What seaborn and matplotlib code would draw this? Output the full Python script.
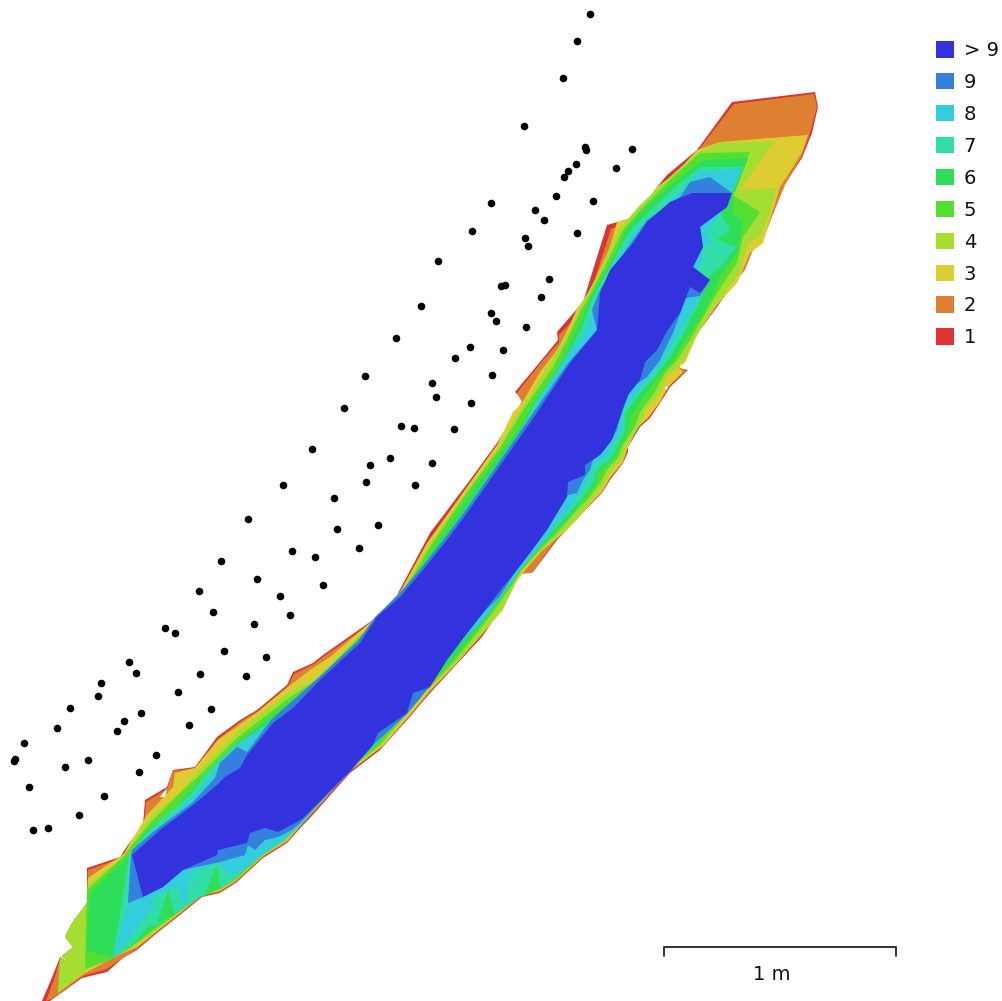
import matplotlib
matplotlib.use("Agg")
import matplotlib.pyplot as plt
from matplotlib.patches import Patch
import numpy as np
import pandas as pd
import seaborn as sns

level_labels = ["> 9", "9", "8", "7", "6", "5", "4", "3", "2", "1"]
level_colors = ["#3333dd", "#3380dd", "#33cddd", "#32dea8", "#2fde58", "#55de32",
                "#a5de32", "#decd32", "#de8032", "#de3333"]

camera_x = [590, 577, 563, 524, 585, 586, 632, 616, 576, 568, 564, 556, 593, 491, 535, 544,
            472, 577, 525, 528, 438, 549, 505, 501, 541, 421, 491, 496, 526, 396, 470, 455,
            503, 365, 492, 432, 436, 471, 344, 401, 414, 454, 312, 390, 370, 432, 366, 415,
            283, 334, 248, 378, 337, 292, 359, 315, 221, 257, 323, 199, 280, 213, 290, 254,
            165, 175, 224, 266, 129, 136, 200, 246, 101, 98, 178, 141, 211, 124, 117, 189,
            70, 57, 24, 15, 14, 156, 88, 65, 139, 29, 104, 79, 48, 33]
camera_y = [14, 41, 78, 126, 147, 150, 149, 168, 164, 171, 177, 196, 201, 203, 210, 220,
            231, 233, 238, 246, 261, 279, 285, 286, 297, 306, 313, 321, 327, 338, 347, 358,
            350, 376, 375, 383, 397, 403, 408, 426, 428, 429, 449, 458, 465, 463, 482, 485,
            485, 498, 519, 525, 529, 551, 548, 557, 561, 579, 585, 591, 596, 612, 615, 624,
            628, 633, 651, 657, 662, 673, 674, 676, 683, 696, 692, 713, 709, 721, 731, 725,
            708, 728, 743, 759, 761, 755, 760, 767, 772, 787, 796, 815, 828, 830]

outline_1 = [(42, 1001), (53, 975), (60, 957), (68, 962), (62, 956), (73, 947), (65, 937), (72, 923), (87, 903),
             (87, 868), (120, 857), (128, 845), (143, 825), (145, 800), (167, 787), (173, 770), (195, 767),
             (217, 737), (240, 720), (257, 710), (287, 685), (293, 672), (313, 663), (323, 655), (377, 617),
             (397, 595), (430, 533), (470, 480), (497, 443), (523, 400), (515, 392), (540, 362), (558, 340),
             (557, 332), (583, 302), (607, 225), (635, 217), (657, 187), (667, 175), (697, 150), (732, 102),
             (815, 92), (818, 107), (812, 133), (802, 158), (783, 187), (763, 240), (757, 238), (743, 270),
             (717, 307), (700, 330), (683, 360), (678, 368), (688, 370), (670, 387), (662, 400), (650, 418),
             (640, 427), (628, 447), (628, 452), (623, 463), (610, 480), (602, 493), (595, 500), (557, 540),
             (533, 572), (520, 572), (507, 600), (482, 637), (430, 693), (407, 720), (380, 750), (350, 773),
             (310, 818), (303, 825), (287, 843), (263, 858), (237, 882), (220, 893), (202, 897), (180, 915),
             (157, 933), (137, 950), (123, 958), (107, 972), (82, 978), (50, 1001)]
outline_2 = [(46, 1001), (55, 977), (60, 958), (68, 962), (62, 956), (73, 947), (65, 937), (72, 923), (87, 903),
             (88, 870), (121, 858), (129, 845), (144, 825), (146, 802), (167, 789), (173, 771), (195, 768),
             (218, 739), (241, 721), (258, 711), (288, 686), (294, 674), (314, 664), (323, 657), (377, 619),
             (398, 597), (433, 537), (472, 484), (500, 447), (523, 404), (517, 393), (540, 364), (559, 342),
             (559, 335), (586, 307), (611, 229), (636, 219), (657, 189), (697, 152), (734, 104),
             (814, 94), (817, 107), (810, 133), (802, 156), (785, 185), (762, 241), (757, 240), (745, 270),
             (717, 305), (700, 329), (684, 361), (679, 367), (686, 371), (669, 386), (661, 399), (649, 417),
             (639, 426), (627, 446), (626, 452), (622, 462), (609, 479), (601, 492), (594, 499), (557, 538),
             (532, 573), (520, 574), (507, 599), (482, 635), (430, 691), (407, 718), (380, 748), (350, 771),
             (310, 816), (303, 823), (287, 842), (263, 857), (237, 881), (220, 892), (202, 896), (180, 914),
             (157, 932), (137, 949), (123, 958), (107, 969), (83, 976), (52, 999)]
outline_3 = [(58, 993), (60, 975), (60, 958), (68, 962), (62, 956), (73, 947), (65, 937), (72, 923), (87, 903),
             (88, 878), (125, 853), (130, 843), (147, 815), (173, 787), (175, 773), (195, 768),
             (218, 740), (242, 723), (258, 712), (288, 687), (310, 670), (330, 657), (373, 620), (383, 610),
             (400, 592), (427, 543), (467, 487), (497, 445), (513, 412), (522, 403), (540, 372), (557, 350),
             (565, 335), (578, 307), (590, 290), (610, 247), (617, 222), (635, 217), (657, 187), (677, 172), (697, 150),
             (720, 142), (808, 135), (802, 152), (793, 167), (780, 187), (763, 243), (750, 253), (737, 283),
             (717, 305), (698, 333), (685, 363), (678, 367), (683, 372), (668, 387), (660, 402), (648, 418),
             (638, 427), (628, 447), (623, 462), (610, 478), (602, 492), (595, 499), (567, 530),
             (543, 550), (527, 568), (510, 590), (503, 610), (483, 633), (457, 663), (430, 691), (410, 715),
             (383, 746), (350, 771), (310, 815), (287, 841), (263, 856), (237, 880), (220, 891), (202, 895), (180, 913),
             (157, 931), (137, 947), (112, 958), (100, 965), (82, 975)]
outline_4 = [(58, 993), (60, 958), (68, 962), (62, 956), (73, 947), (65, 937), (72, 923), (87, 903), (88, 885),
             (125, 855), (131, 845), (150, 817), (177, 795), (203, 767), (240, 730), (287, 693), (313, 680),
             (375, 622), (400, 595), (429, 545), (469, 488), (499, 447), (515, 418), (530, 395), (560, 347),
             (572, 325), (585, 298), (600, 270), (620, 228), (640, 205), (672, 175),
             (700, 151), (720, 143), (775, 141), (757, 165), (740, 190), (777, 188), (770, 213), (760, 237),
             (748, 243), (740, 273), (717, 303), (695, 337), (682, 363), (668, 375), (660, 393), (647, 408),
             (640, 425), (627, 445), (622, 458), (612, 470), (603, 485), (593, 499), (569, 527), (541, 551),
             (521, 572), (505, 605), (482, 634), (455, 664), (428, 690), (408, 714),
             (381, 745), (350, 770), (310, 814), (285, 841), (262, 856), (237, 879), (220, 890), (202, 895), (178, 913),
             (155, 932), (133, 947), (113, 956), (85, 971)]
outline_5 = [(85, 969), (87, 890), (125, 855), (132, 845), (150, 823), (180, 793), (205, 770), (237, 738),
             (290, 697), (317, 680), (373, 623), (400, 597), (430, 547), (470, 488), (500, 448), (517, 420),
             (523, 410), (553, 367), (567, 340), (580, 312), (587, 300), (603, 270), (623, 230),
             (643, 207), (673, 177), (700, 153), (750, 152), (740, 173), (730, 193), (760, 212), (743, 237),
             (737, 263), (717, 293), (690, 340), (677, 360), (665, 373), (653, 395), (640, 412), (635, 427),
             (623, 445), (618, 458), (607, 470), (600, 483), (588, 499), (580, 507), (557, 533), (537, 553),
             (522, 570), (500, 603), (477, 633), (453, 663), (427, 690), (407, 713), (380, 745),
             (350, 769), (305, 820), (284, 841), (261, 856), (237, 879), (220, 889), (203, 895), (168, 920),
             (150, 933), (130, 948), (110, 960)]
outline_6 = [(86, 950), (90, 893), (129, 856), (145, 832), (173, 810), (200, 780), (213, 767), (240, 740),
             (263, 723), (292, 700), (320, 680), (377, 623), (400, 600), (433, 550), (473, 490), (503, 450),
             (520, 427), (533, 403), (557, 370), (572, 340), (593, 293), (610, 263), (628, 227), (650, 203),
             (677, 180), (703, 160), (748, 158), (737, 187), (733, 195), (733, 213), (743, 223), (740, 237),
             (737, 253), (720, 277), (707, 307), (687, 338), (672, 362), (658, 377), (642, 400), (630, 418),
             (628, 433), (620, 447), (615, 458), (598, 473), (597, 483), (583, 500), (567, 520), (537, 550),
             (520, 570), (500, 600), (477, 630), (450, 663), (423, 690), (403, 713), (377, 745), (350, 768),
             (300, 825), (283, 840), (260, 856), (237, 877), (220, 888), (203, 894), (180, 907), (168, 918),
             (150, 931), (130, 947), (112, 958)]
outline_7 = [(113, 958), (127, 870), (129, 855), (145, 835), (160, 820), (173, 810), (190, 795), (205, 775),
             (233, 747), (263, 727), (292, 702), (320, 682), (373, 627), (400, 600), (437, 550), (477, 493),
             (507, 450), (520, 432), (535, 403), (565, 360), (580, 332), (593, 297), (610, 267), (630, 230),
             (653, 208), (680, 183), (700, 167), (743, 167), (732, 193), (720, 213), (730, 230), (717, 240),
             (737, 247), (720, 267), (708, 277), (700, 300), (682, 337), (668, 360), (652, 380), (640, 393),
             (625, 413), (625, 430), (615, 450), (612, 457), (597, 470), (593, 483), (582, 498), (563, 520),
             (533, 550), (518, 572), (498, 600), (473, 627), (447, 660), (420, 688), (400, 712), (375, 745),
             (350, 767), (300, 825), (285, 840), (263, 855), (245, 870), (233, 880), (221, 888), (200, 897),
             (175, 914), (158, 925), (150, 925), (132, 945)]
outline_8 = [(113, 958), (128, 903), (130, 870), (131, 857), (152, 830), (165, 827), (183, 805), (203, 787),
             (222, 758), (242, 742), (272, 722), (293, 703), (323, 680), (375, 627), (400, 600), (440, 550),
             (480, 493), (510, 450), (538, 403), (570, 350), (585, 332), (597, 300), (613, 267), (633, 233),
             (657, 213), (690, 183), (697, 173), (742, 168), (730, 195), (723, 210), (713, 223), (705, 237),
             (713, 240), (700, 250), (703, 260), (697, 270), (710, 280), (700, 297), (678, 335), (665, 357),
             (648, 380), (637, 393), (623, 410), (622, 430), (612, 445), (608, 455), (592, 467), (588, 480),
             (577, 497), (570, 510), (553, 527), (548, 537), (520, 570), (498, 600), (483, 620), (463, 640),
             (443, 660), (417, 688), (397, 711), (373, 745), (350, 766), (305, 820), (297, 828), (280, 842),
             (263, 853), (245, 868), (232, 877), (217, 863), (205, 885), (197, 890), (190, 875), (186, 905),
             (178, 905), (168, 890), (153, 898), (155, 905)]
outline_9 = [(131, 856), (128, 903), (143, 897), (163, 887), (183, 870), (220, 862), (245, 855), (248, 845),
             (255, 850), (265, 840), (278, 837), (292, 830), (300, 823), (350, 772), (373, 745), (407, 714),
             (430, 686), (447, 660), (467, 634), (483, 613), (500, 596), (517, 569), (547, 529), (565, 496),
             (577, 493), (583, 480), (590, 470), (593, 460), (603, 452), (610, 442), (617, 430), (622, 410),
             (632, 387), (647, 377), (660, 360), (673, 333), (686, 298), (700, 296), (710, 280), (693, 267),
             (703, 247), (700, 227), (727, 207), (732, 193), (710, 177), (690, 182), (680, 197), (647, 220),
             (633, 240), (612, 270), (600, 290), (592, 310), (597, 330), (568, 363), (533, 413), (495, 468),
             (465, 511), (445, 538), (421, 568), (398, 595), (375, 617), (358, 641), (318, 678), (271, 720),
             (247, 752), (237, 747), (220, 763), (215, 778), (192, 803), (158, 828), (132, 850)]
outline_over_9 = [(132, 855), (143, 897), (163, 887), (183, 870), (217, 855), (218, 850), (247, 843), (250, 833),
                  (265, 828), (278, 832), (297, 822), (303, 818), (350, 771), (373, 745), (378, 733), (407, 713),
                  (413, 693), (430, 687), (447, 660), (467, 633), (483, 613), (503, 587), (517, 570), (530, 553),
                  (547, 530), (567, 497), (568, 482), (585, 475), (585, 465), (600, 455), (612, 440), (622, 412),
                  (628, 395), (640, 380), (645, 362), (657, 350), (667, 331), (680, 313), (690, 287), (700, 293),
                  (710, 280), (693, 267), (703, 247), (700, 227), (727, 207), (732, 193), (692, 193), (670, 202),
                  (647, 222), (633, 243), (610, 270), (600, 293), (597, 330), (570, 363), (540, 408), (532, 420),
                  (497, 470), (467, 513), (447, 540), (423, 570), (400, 597), (377, 617), (360, 643), (320, 680),
                  (293, 708), (273, 723), (247, 755), (240, 768), (225, 777), (217, 785), (193, 805), (160, 830)]

# flecks of other levels that lie on top of the level 8 band, lower left end
patch_6_a = [(168, 890), (157, 923), (175, 915)]
patch_6_b = [(217, 865), (203, 897), (220, 888)]
patch_7_a = [(190, 873), (203, 897), (217, 863)]
patch_7_b = [(217, 863), (233, 877), (221, 887)]
patch_7_c = [(168, 890), (178, 887), (184, 905), (175, 912)]

# gaps in the surface
hole_a = [(160, 797), (167, 788), (165, 797)]
hole_b = [(664, 388), (668, 386), (667, 390)]

layers = [
    (outline_1, level_colors[9]), (outline_2, level_colors[8]), (outline_3, level_colors[7]),
    (outline_4, level_colors[6]), (outline_5, level_colors[5]), (outline_6, level_colors[4]),
    (outline_7, level_colors[3]), (outline_8, level_colors[2]),
    (patch_7_a, level_colors[3]), (patch_7_b, level_colors[3]), (patch_7_c, level_colors[3]),
    (patch_6_a, level_colors[4]), (patch_6_b, level_colors[4]),
    (outline_9, level_colors[1]), (outline_over_9, level_colors[0]),
    (hole_a, "white"), (hole_b, "white"),
]

WIDTH, HEIGHT = 1002, 1001
TEXTSIZE = 14

sns.set_theme(style="white")
plt.rcParams["font.family"] = ["DejaVu Sans"]

fig = plt.figure(figsize=(WIDTH / 100, HEIGHT / 100), dpi=100)
ax = fig.add_axes([0, 0, 1, 1])

# painted from the outermost level to the innermost
for outline, color in layers:
    pts = np.array(outline)
    ax.fill(pts[:, 0], pts[:, 1], color=color, lw=0, zorder=1)

cameras = pd.DataFrame({"x": camera_x, "y": camera_y})
sns.scatterplot(data=cameras, x="x", y="y", color="black", s=30, linewidth=0, ax=ax, zorder=3)

ax.set_xlim(0, WIDTH)
ax.set_ylim(HEIGHT, 0)
ax.axis("off")

# scale bar
ax.plot([664, 664, 896, 896], [956, 947, 947, 956], color="#222222", lw=1.3, zorder=3,
        solid_joinstyle="miter")
ax.text(772, 975, "1 m", fontsize=TEXTSIZE, ha="center", va="center", color="#111111")

handles = [Patch(facecolor=c, edgecolor="none", label=l) for c, l in zip(level_colors, level_labels)]
ax.legend(handles=handles, loc="upper left", bbox_to_anchor=(936 / WIDTH, 1 - 41 / HEIGHT),
          frameon=False, fontsize=TEXTSIZE, handlelength=0.93, handleheight=0.93,
          handletextpad=0.5, labelspacing=0.665, borderpad=0, borderaxespad=0, labelcolor="#111111")

fig.savefig("out.png", dpi=100)
